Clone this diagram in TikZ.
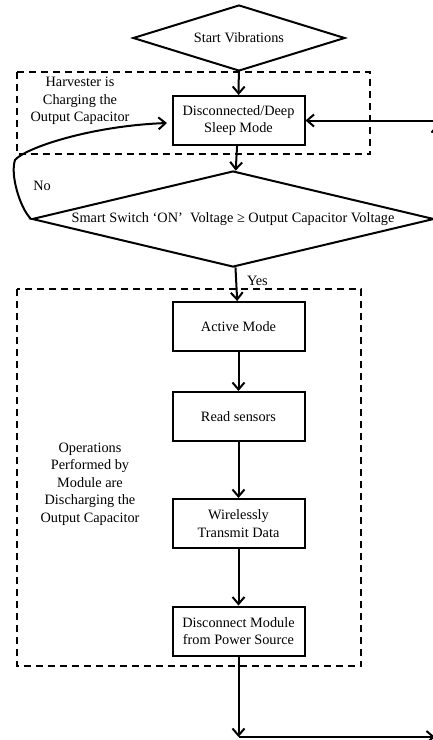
\documentclass[tikz,border=0pt]{standalone}
\usepackage{fontspec}
\setmainfont{Liberation Serif}
\usetikzlibrary{shapes.geometric,arrows.meta}
\begin{document}
\begin{tikzpicture}[x=1pt,y=-1pt,
  line width=2pt,
  font=\fontsize{14.3}{17.5}\selectfont,
  box/.style={draw, minimum width=132pt, minimum height=49pt, align=center, inner sep=2pt},
  dia/.style={draw, shape=diamond, inner sep=0pt, align=center},
  flow/.style={-{Straight Barb[length=7pt,width=12pt,line width=2pt]}},
  grp/.style={draw, dash pattern=on 7pt off 5pt},
  note/.style={align=center, inner sep=0pt}]
\useasboundingbox (0,0) rectangle (433,740);
\clip (0,0) rectangle (433,740);

% group frames
\draw[grp] (16.5,72) rectangle (370,154);
\draw[grp] (16.5,289) rectangle (361,666);

% main nodes
\node[dia, minimum width=212pt, minimum height=66pt, aspect=3.2] (start) at (239,38) {Start Vibrations};
\node[box] (sleep) at (238.5,120.5) {Disconnected/Deep\\Sleep Mode};
\node[dia, minimum width=402pt, minimum height=96pt, aspect=4.2] (dec) at (233,219) {Smart Switch ‘ON’\ \ Voltage ≥ Output Capacitor Voltage};
\node[box] (active) at (238.5,326.5) {Active Mode};
\node[box] (read) at (238.5,416.5) {Read sensors};
\node[box] (wire) at (238.5,523.5) {Wirelessly\\Transmit Data};
\node[box] (disc) at (238.5,631) {Disconnect Module\\from Power Source};

% labels
\node[note] (harv) at (80,101) {Harvester is\\Charging the\\Output Capacitor};
\node[note] (ops) at (90,484) {Operations\\Performed by\\Module are\\Discharging the\\Output Capacitor};
\node[note] (no) at (42,186) {No};
\node[note, anchor=west] (yes) at (246,281) {Yes};

% helper coordinates
\coordinate (c1) at (238.5,737);
\coordinate (c2) at (435,737);
\coordinate (c3) at (437.5,400);
\coordinate (c4) at (437.5,124);
\coordinate (c5) at (445,120.5);
\coordinate (k1) at (15,160);
\coordinate (c6) at (167,123);

% connectors
\draw[flow] (start) -- (sleep);
\draw[flow] (sleep) -- (dec);
\draw[flow] (dec) -- (active);
\draw[flow] (active) -- (read);
\draw[flow] (read) -- (wire);
\draw[flow] (wire) -- (disc);
\draw[flow] (disc) -- (c1);
\draw[flow] (c1) -- (c2);
\draw[flow] (c3) -- (c4);
\draw[flow] (c5) -- (sleep);
\draw[flow] (dec.west) .. controls (20,208) and (10,175) .. (k1)
  .. controls (25,148) and (90,126) .. (c6);
\end{tikzpicture}
\end{document}
